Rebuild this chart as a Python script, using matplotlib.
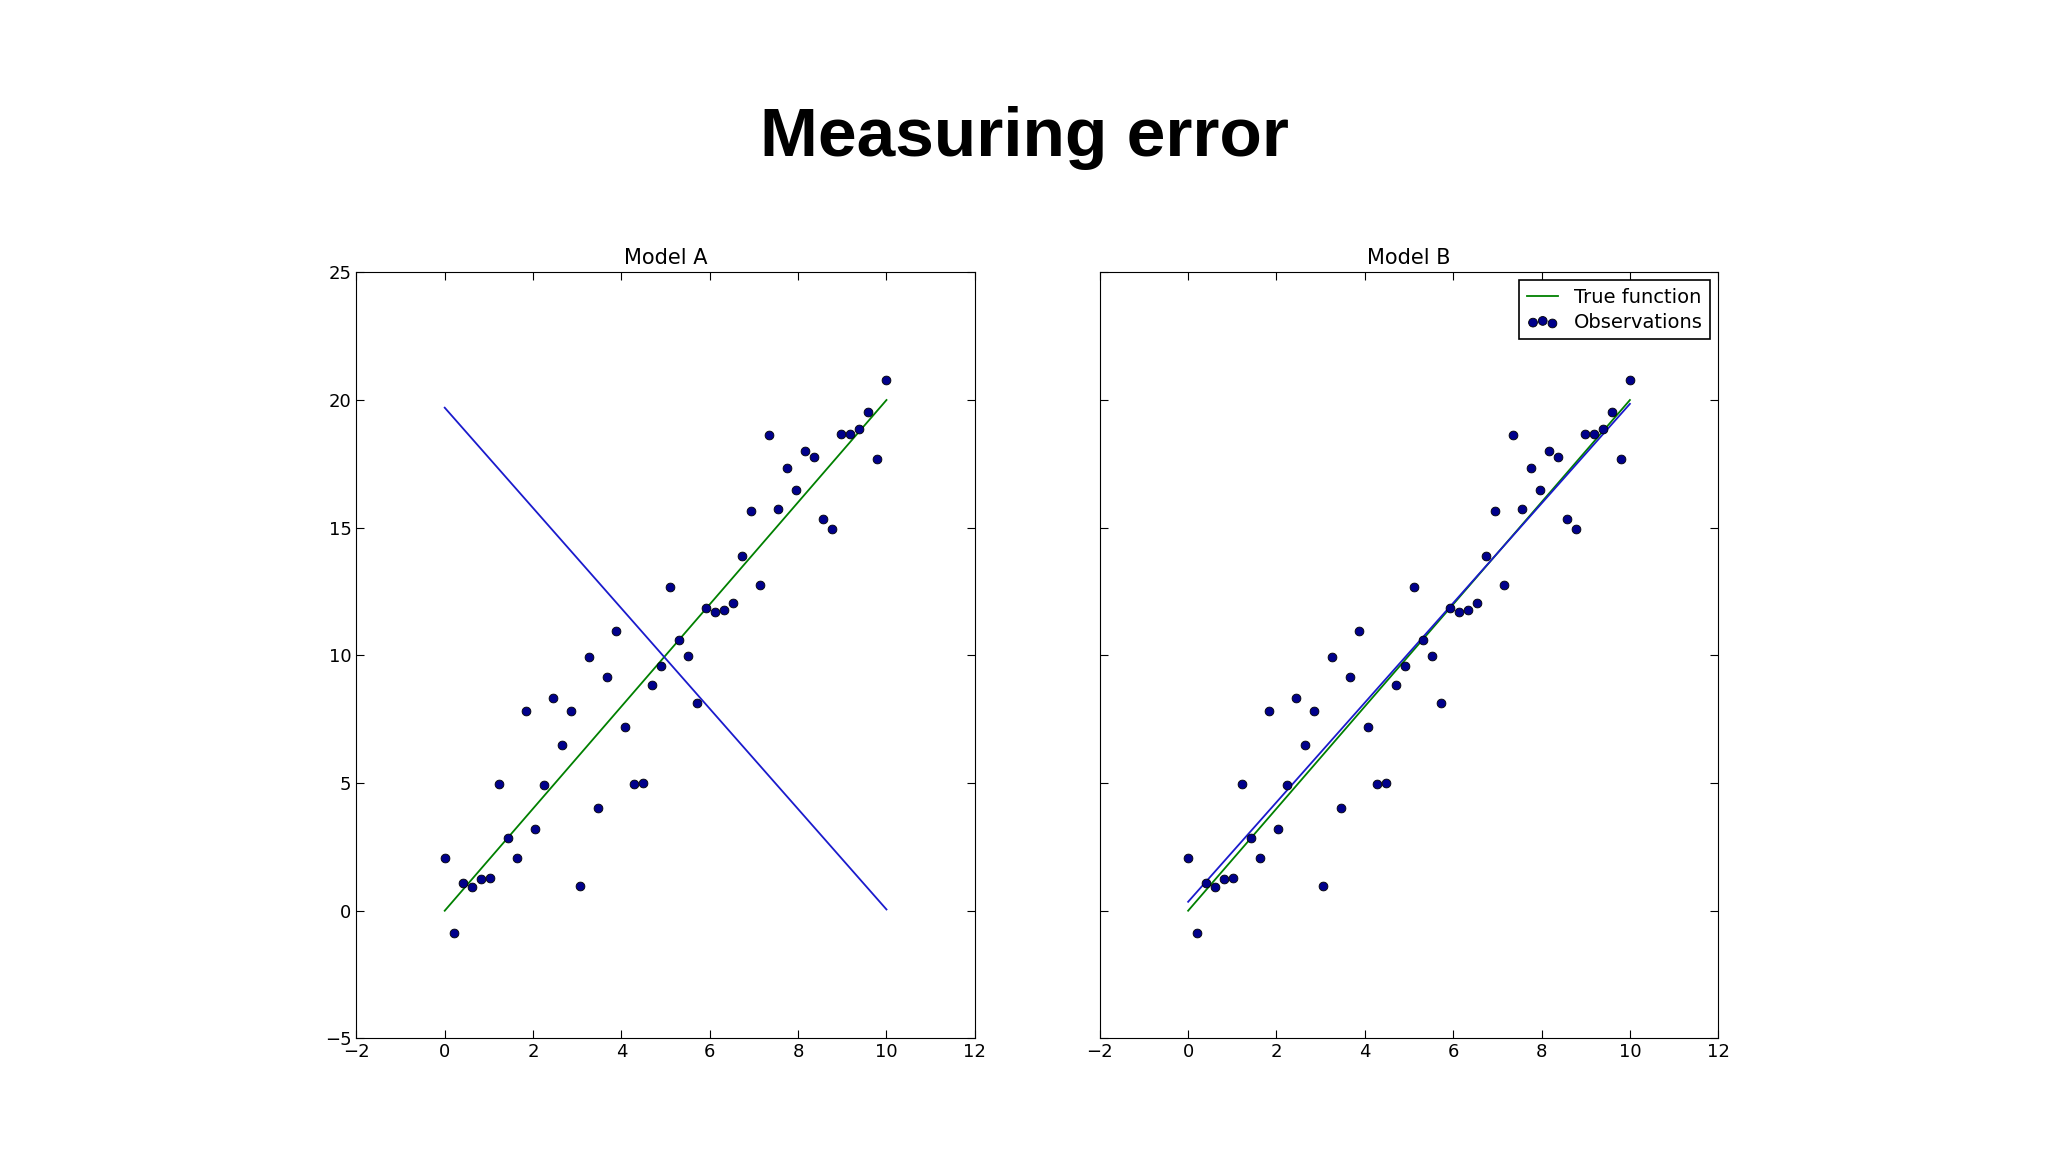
import matplotlib
matplotlib.use("Agg")
import matplotlib.pyplot as plt
import numpy as np

x = np.linspace(0, 10, 50)
y_obs = [2.05, -0.87, 1.07, 0.92, 1.23, 1.28, 4.96, 2.86, 2.05, 7.83,
         3.22, 4.91, 8.34, 6.5, 7.83, 0.97, 9.92, 4.04, 9.16, 10.95,
         7.21, 4.96, 5.01, 8.85, 9.57, 12.69, 10.59, 9.97, 8.13, 11.87,
         11.71, 11.76, 12.07, 13.91, 15.65, 12.74, 18.62, 15.75, 17.34, 16.47,
         18.0, 17.75, 15.35, 14.94, 18.67, 18.67, 18.87, 19.54, 17.7, 20.77]
true_slope, true_icpt = 2.0, 0.0
a_slope, a_icpt = -1.965, 19.7
b_slope, b_icpt = 1.95, 0.35

fig = plt.figure(figsize=(20.48, 11.52), dpi=100)
fig.text(0.5, 0.88, "Measuring error", ha="center", va="center",
         fontsize=50, fontweight="bold", family="Liberation Sans")

axes = [fig.add_axes([0.174, 0.0986, 0.302, 0.665]),
        fig.add_axes([0.537, 0.0986, 0.302, 0.665])]
fits = [(a_slope, a_icpt), (b_slope, b_icpt)]
for ax, name, (s, c) in zip(axes, ["Model A", "Model B"], fits):
    ax.plot(x, true_slope * x + true_icpt, color="green", lw=1.3, label="True function")
    ax.plot(x, s * x + c, color="#1a1acc", lw=1.3)
    ax.scatter(x, y_obs, s=40, c="#00008b", edgecolors="black", linewidths=0.6,
               zorder=3, label="Observations")
    ax.set_xlim(-2, 12)
    ax.set_ylim(-5, 25)
    ax.set_xticks(range(-2, 13, 2))
    ax.set_yticks(range(-5, 26, 5))
    ax.set_xticklabels([("\u2212" if v < 0 else "") + str(abs(v)) for v in range(-2, 13, 2)])
    ax.tick_params(direction="in", top=True, right=True, labelsize=13, length=6)
    ax.set_title(name, fontsize=15)
axes[0].set_yticklabels([("\u2212" if v < 0 else "") + str(abs(v)) for v in range(-5, 26, 5)])
axes[1].set_yticklabels([])
leg = axes[1].legend(loc="upper right", fontsize=14, fancybox=False, scatterpoints=3,
                     edgecolor="black", framealpha=1, handlelength=1.6,
                     borderaxespad=0.4, labelspacing=0.3)
leg.get_frame().set_linewidth(1.2)
fig.savefig("out.png", dpi=100)
